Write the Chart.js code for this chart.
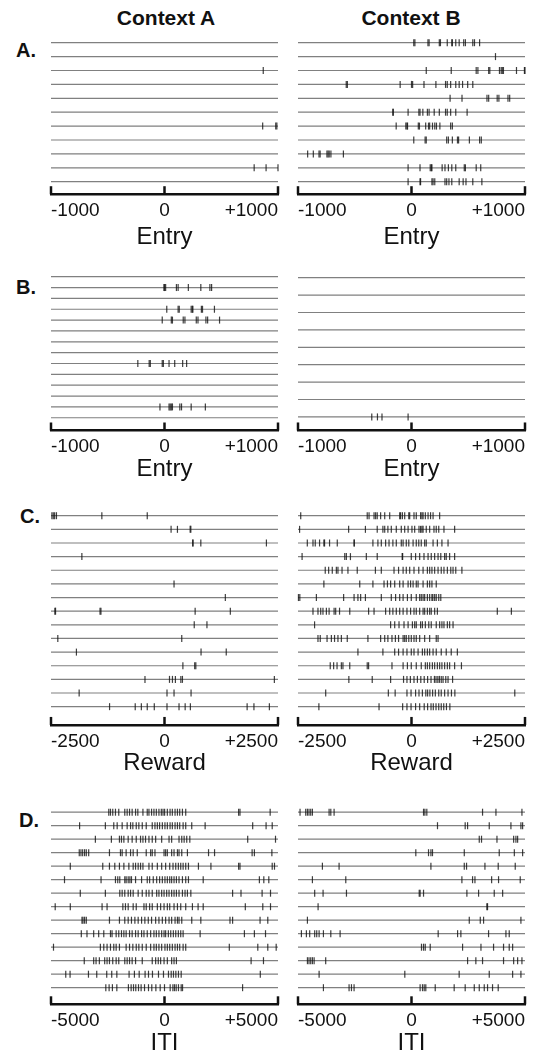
<!DOCTYPE html>
<html>
<head>
<meta charset="utf-8">
<script src="https://cdn.jsdelivr.net/npm/chart.js@4.4.0/dist/chart.umd.min.js"></script>
<style>
  body { margin: 0; background: #fff; }
  #fig { position: relative; width: 536px; height: 1056px; overflow: hidden; font-family: 'Liberation Sans', Arial, sans-serif; }
  #fig canvas { position: absolute; }
  .lbl { position: absolute; font-weight: bold; color: #111; line-height: 1; white-space: nowrap; }
</style>
</head>
<body>
<div id="fig">
  <div class="lbl" style="left:166px;top:17px;font-size:21px;transform:translate(-50%,-50%)">Context A</div>
  <div class="lbl" style="left:411px;top:17px;font-size:21px;transform:translate(-50%,-50%)">Context B</div>
  <div class="lbl" style="left:16px;top:50px;font-size:20px;transform:translateY(-50%)">A.</div>
  <div class="lbl" style="left:16px;top:287px;font-size:20px;transform:translateY(-50%)">B.</div>
  <div class="lbl" style="left:20px;top:516px;font-size:20px;transform:translateY(-50%)">C.</div>
  <div class="lbl" style="left:19px;top:820px;font-size:20px;transform:translateY(-50%)">D.</div>
</div>
<script>
// tick labels per event
const entryTicks = [-1000, 0, 1000];
const rewardTicks = [-2500, 0, 2500];
const itiTicks = [-5000, 0, 5000];

// spike times (ms) per trial, top trial first
const entryCtxA = [
    [], [], [870], [], [], [], [865, 980, 990], [], [], [790, 895, 1000], []
];
const entryCtxB = [
    [20, 30, 145, 155, 245, 255, 315, 355, 360, 390, 420, 460, 475, 540, 555, 600],
    [740],
    [130, 350, 570, 585, 680, 690, 775, 790, 800, 810, 925, 995, 1000],
    [-575, -565, -100, 0, 10, 110, 215, 300, 315, 345, 390, 420, 450, 495, 540],
    [340, 445, 665, 680, 755, 770, 850, 865],
    [-165, -160, -30, 65, 75, 100, 140, 155, 200, 245, 300, 315, 345, 390, 490],
    [-135, -50, -40, -35, 60, 70, 125, 150, 160, 185, 205, 220, 250, 345, 360],
    [20, 120, 130, 310, 325, 360, 405, 415, 510, 600, 615],
    [-915, -865, -815, -805, -745, -735, -725, -710, -600],
    [-30, 75, 165, 175, 180, 270, 295, 325, 355, 390, 465, 475, 570, 610],
    [-30, 75, 80, 180, 190, 205, 295, 310, 330, 355, 420, 455, 480, 540, 620]
];
const entry2CtxA = [
    [],
    [-5, 0, 10, 105, 120, 210, 320, 400, 415],
    [],
    [20, 120, 130, 235, 245, 250, 325, 335, 440],
    [-20, 60, 70, 165, 180, 280, 295, 365, 380, 485],
    [], [], [],
    [-235, -135, -125, -20, -10, 40, 90, 160, 195],
    [], [], [],
    [-40, 40, 50, 60, 70, 135, 150, 235, 360],
    []
];
const entry2CtxB = [
    [], [], [], [], [], [], [], [],
    [-350, -300, -260, -30]
];
const rewardCtxA = [
    [-2480, -2450, -2420, -2380, -1380, -380],
    [145, 285, 565, 580],
    [620, 630, 800, 2245],
    [-1820],
    [],
    [210],
    [1340],
    [-2415, -2400, -1420, -1400, 675, 1450],
    [655, 935],
    [-2350, 380],
    [-1940, 805, 1360],
    [405, 665, 690],
    [-430, 110, 175, 240, 360, 395, 2420],
    [-1880, 55, 210, 585],
    [-1210, -645, -510, -380, -225, 55, 320, 455, 570, 1820, 1970, 2310]
];
const rewardCtxB = [
    [-2440, -975, -935, -825, -790, -755, -680, -590, -480, -260, -240, -200, -150, -60, -40, 55, 105, 200, 230, 255, 305, 365, 420, 475, 620],
    [-2465, -1385, -1015, -755, -630, -590, -520, -445, -335, -225, -150, -75, 10, 70, 165, 200, 230, 255, 325, 400, 495, 545, 600, 715, 950],
    [-2295, -2170, -2120, -2025, -1930, -1915, -1805, -1635, -1265, -1260, -850, -740, -665, -570, -495, -410, -335, -225, -185, -115, -60, 35, 105, 160, 215, 290, 325, 475, 570, 670, 805],
    [-2410, -1470, -1435, -1345, -995, -755, -205, -195, -5, 90, 180, 275, 365, 435, 510, 585, 645, 730, 765, 840, 950],
    [-1900, -1825, -1745, -1655, -1620, -1530, -1400, -1195, -795, -665, -385, -285, -185, -115, -40, 55, 160, 255, 350, 400, 450, 510, 585, 655, 715, 790, 865, 915, 975, 1110],
    [-1930, -1140, -850, -605, -530, -460, -370, -260, -185, -75, -20, 35, 105, 145, 255, 350, 400, 450, 545],
    [-2490, -2460, -2095, -1495, -1265, -1180, -1120, -1015, -665, -445, -350, -260, -185, -90, -5, 105, 180, 215, 255, 290, 350, 400, 450, 470, 510, 545, 600, 645],
    [-2170, -2060, -2000, -1950, -1875, -1815, -1705, -1670, -1585, -1360, -945, -825, -570, -480, -410, -335, -260, -185, -100, -20, 55, 105, 180, 255, 290, 350, 400, 435, 510, 570, 1890, 2200],
    [-2135, -460, -370, -275, -165, -75, 20, 70, 105, 200, 240, 305, 380, 435, 545, 620, 670, 715, 790, 840, 915],
    [-2060, -2010, -1860, -1765, -1695, -1620, -1545, -1415, -960, -680, -590, -520, -430, -355, -285, -185, -150, -115, -60, -5, 55, 105, 180, 290, 400, 545, 585],
    [-1180, -630, -370, -285, -185, -100, -5, 55, 145, 240, 290, 350, 400, 475, 545, 655, 765, 875, 1010],
    [-1790, -1715, -1640, -1545, -1510, -1360, -975, -945, -430, -185, -90, -5, 105, 215, 305, 350, 400, 460, 510, 570, 620, 670, 730, 790, 840, 950, 1100],
    [-1380, -865, -460, -175, -100, -25, 55, 130, 205, 280, 355, 430, 505, 540, 580, 615, 655, 695, 755, 805, 905],
    [-1890, -510, -360, -100, -10, 90, 165, 240, 315, 355, 405, 465, 525, 600, 655, 730, 805, 880, 955, 2275],
    [-2040, -715, -195, -100, -10, 90, 180, 280, 355, 430, 480, 540, 600, 655, 710, 770, 845]
];
const itiCtxA = [
    [-2455, -2380, -2280, -2160, -2015, -1750, -1645, -1540, -1425, -1275, -1175, -950, -760, -685, -570, -465, -360, -245, -140, -65, 5, 125, 245, 345, 465, 570, 670, 790, 935, 3265, 3325, 4655],
    [-3740, -2605, -2235, -2085, -1865, -1645, -1495, -1395, -1245, -1130, -980, -805, -540, -420, -315, -215, -95, 20, 125, 245, 345, 465, 570, 670, 820, 935, 1200, 1790, 3885, 4475, 4745],
    [-3045, -2340, -1985, -1895, -1790, -1600, -1425, -1245, -1055, -950, -835, -685, -540, -390, -125, 200, 315, 640, 760, 865, 980, 1115, 3665, 4890],
    [-3755, -3680, -3605, -3520, -3445, -3340, -2425, -1940, -1865, -1690, -1495, -1380, -1200, -805, -610, -540, -420, -20, 50, 125, 315, 420, 570, 640, 760, 1010, 1940, 2205, 3860, 3960, 4730],
    [-4150, -2720, -2425, -2190, -1985, -1790, -1570, -1380, -1275, -1160, -1055, -950, -685, -540, -315, -125, 50, 230, 375, 495, 610, 715, 820, 935, 1055, 1495, 2045, 3265, 3325, 4745, 4845],
    [-4405, -2795, -2160, -2060, -1970, -1750, -1690, -1600, -1525, -1455, -1275, -1010, -760, -655, -495, -345, -215, -95, 20, 125, 230, 315, 420, 525, 640, 790, 935, 1055, 1705, 4180, 4375, 4595],
    [-3710, -2605, -1970, -1865, -1750, -1600, -1495, -1380, -1160, -980, -805, -685, -540, -345, -245, -125, -20, 95, 200, 315, 420, 525, 640, 790, 905, 1010, 1160, 3000, 3370, 4300, 4670],
    [-4815, -4150, -2750, -2530, -1835, -1720, -1600, -1380, -1245, -905, -805, -655, -540, -315, -170, -20, 125, 230, 420, 570, 715, 935, 1230, 1480, 1705, 3560, 4330, 4670],
    [-3635, -3590, -3520, -3445, -2425, -1985, -1750, -1600, -1455, -1305, -1160, -1010, -865, -715, -570, -390, -245, -95, 50, 200, 315, 465, 570, 640, 760, 1200, 1600, 2885, 3000, 4210, 4550],
    [-3665, -3415, -3120, -2900, -2675, -2380, -2310, -2130, -2015, -1895, -1790, -1690, -1540, -1425, -1275, -1160, -1010, -905, -760, -610, -465, -360, -245, -125, -20, 50, 170, 275, 390, 495, 610, 715, 820, 1570, 3520, 3960, 4450],
    [-4890, -2825, -2675, -2530, -2380, -2235, -2130, -1985, -1690, -1540, -1395, -1245, -1130, -980, -805, -610, -465, -360, -245, -125, 20, 125, 230, 345, 465, 570, 670, 820, 935, 2855, 4110, 4550, 4920],
    [-3535, -3120, -3015, -2870, -2635, -2530, -2425, -2280, -2130, -2015, -1750, -1645, -1540, -1425, -1275, -980, -540, -390, -275, -170, -20, 125, 315, 420, 525, 3815, 4360],
    [-4350, -4160, -3350, -2985, -2545, -2325, -2100, -1560, -1325, -1115, -855, -705, -530, -265, -45, 175, 295, 395, 500, 615, 735, 4220],
    [-2585, -2440, -2295, -2100, -1590, -1470, -1365, -1265, -1145, -1030, -880, -705, -560, -380, -190, 0, 250, 370, 440, 515, 615, 735, 795, 3440]
];
const itiCtxB = [
    [-4910, -4660, -4585, -4515, -4440, -4365, -3630, -3555, -3410, 530, 590, 675, 3130, 3720, 4865],
    [1145, 2365, 2470, 3425, 4380, 4820, 4895],
    [2985, 3085, 3765, 4500, 4600, 4675],
    [190, 750, 855, 925, 2325, 3865, 4530, 4895],
    [-3925, -3190, 855, 2325, 2425, 3235, 3820, 4570],
    [-4365, -2895, 2220, 2690, 2795, 3530, 3835, 4790],
    [-4265, -3895, -2865, 340, 380, 530, 2440, 2955, 3645, 4015],
    [-4115, 3320, 3350],
    [-4585, 2545, 3030, 3175, 4820],
    [-4850, -4630, -4485, -4265, -4175, -4070, -3880, -3555, -3145, 1175, 2030, 2175, 3395, 4160, 4305],
    [440, 530, 605, 825, 2250, 3060, 3615, 4055, 4305, 4455],
    [-4585, -4515, -4440, -4365, -4290, -3780, 2470, 2835, 3130, 4055, 4500, 4675, 4865],
    [-4070, -295, 2100, 3425, 4455, 4820],
    [-3880, -2750, -2645, -2530, 380, 485, 560, 630, 1045, 1880, 2365, 2765, 2985, 3205, 3350, 3570, 3820]
];

const FONT = "'Liberation Sans', Arial, sans-serif";
const cols = [{ left: 51, right: 278 }, { left: 298, right: 525 }];

// row1: pixel of first trial, step: row spacing, gap: rows between last trial and axis
const panels = [
    { trials: entryCtxA, col: 0, ticks: entryTicks, title: 'Entry', row1: 42.7, step: 13.9, gap: 0.9, titleGap: 43 },
    { trials: entryCtxB, col: 1, ticks: entryTicks, title: 'Entry', row1: 42.7, step: 13.9, gap: 0.9, titleGap: 43 },
    { trials: entry2CtxA, col: 0, ticks: entryTicks, title: 'Entry', row1: 276.7, step: 10.85, gap: 1.175, titleGap: 39 },
    { trials: entry2CtxB, col: 1, ticks: entryTicks, title: 'Entry', row1: 277.7, step: 17.4, gap: 0.78, titleGap: 39 },
    { trials: rewardCtxA, col: 0, ticks: rewardTicks, title: 'Reward', row1: 515.7, step: 13.64, gap: 1.34, titleGap: 38 },
    { trials: rewardCtxB, col: 1, ticks: rewardTicks, title: 'Reward', row1: 515.7, step: 13.64, gap: 1.34, titleGap: 38 },
    { trials: itiCtxA, col: 0, ticks: itiTicks, title: 'ITI', row1: 812.2, step: 13.5, gap: 1.23, titleGap: 39.5 },
    { trials: itiCtxB, col: 1, ticks: itiTicks, title: 'ITI', row1: 812.2, step: 13.5, gap: 1.23, titleGap: 39.5 }
];

// short tick marks pointing up from the axis
const upTicks = {
    id: 'upTicks',
    afterDraw(chart) {
        const xs = chart.scales.x;
        const ctx = chart.ctx;
        const y = chart.chartArea.bottom;
        ctx.save();
        ctx.strokeStyle = '#111';
        ctx.lineWidth = 2.5;
        xs.ticks.forEach(t => {
            const px = xs.getPixelForValue(t.value);
            ctx.beginPath();
            ctx.moveTo(px, y);
            ctx.lineTo(px, y - 8);
            ctx.stroke();
        });
        ctx.restore();
    }
};

const fig = document.getElementById('fig');

panels.forEach(p => {
    const col = cols[p.col];
    const n = p.trials.length;
    const range = p.ticks[p.ticks.length - 1];
    const padX = 14;
    const areaTop = p.row1 - 0.5 * p.step;
    const canvasTop = Math.round(areaTop - 6);
    const padTop = areaTop - canvasTop;
    const plotH = (n - 0.5 + p.gap) * p.step;
    const axisH = p.titleGap + 14.4;
    const totalH = padTop + plotH + axisH;
    const canvasH = Math.ceil(totalH);

    const canvas = document.createElement('canvas');
    canvas.width = col.right - col.left + 2 * padX;
    canvas.height = canvasH;
    canvas.style.left = (col.left - padX) + 'px';
    canvas.style.top = canvasTop + 'px';
    canvas.style.width = canvas.width + 'px';
    canvas.style.height = canvasH + 'px';
    fig.appendChild(canvas);

    const linePts = [];
    const spikePts = [];
    p.trials.forEach((times, i) => {
        const trial = i + 1;
        linePts.push({ x: -range, y: trial }, { x: range, y: trial }, { x: 0, y: null });
        times.forEach(t => spikePts.push({ x: t, y: trial }));
    });

    new Chart(canvas, {
        type: 'scatter',
        data: {
            datasets: [
                {
                    data: linePts,
                    showLine: true,
                    spanGaps: false,
                    borderColor: '#808080',
                    borderWidth: 1.2,
                    pointRadius: 0,
                    order: 2
                },
                {
                    data: spikePts,
                    pointStyle: 'line',
                    pointRotation: 90,
                    pointRadius: 3.5,
                    pointBorderColor: 'rgba(15,15,15,0.8)',
                    pointBorderWidth: 1.2,
                    clip: false,
                    order: 1
                }
            ]
        },
        options: {
            responsive: false,
            animation: false,
            events: [],
            layout: { padding: { left: padX, right: padX, top: padTop, bottom: canvasH - totalH } },
            plugins: { legend: { display: false }, tooltip: { enabled: false } },
            scales: {
                x: {
                    type: 'linear',
                    min: -range,
                    max: range,
                    afterBuildTicks: s => { s.ticks = p.ticks.map(v => ({ value: v })); },
                    afterFit: s => { s.height = axisH; },
                    grid: { display: false, drawTicks: false },
                    border: { display: true, color: '#111', width: 2.5 },
                    ticks: {
                        align: 'inner',
                        padding: 5,
                        autoSkip: false,
                        maxRotation: 0,
                        color: '#111',
                        font: { family: FONT, size: 19 },
                        callback: v => (v > 0 ? '+' + v : String(v))
                    },
                    title: {
                        display: true,
                        text: p.title,
                        color: '#111',
                        font: { family: FONT, size: 24 },
                        padding: { top: 0, bottom: 0 }
                    }
                },
                y: { type: 'linear', display: false, reverse: true, min: 0.5, max: n + p.gap }
            }
        },
        plugins: [upTicks]
    });
});
</script>
</body>
</html>
